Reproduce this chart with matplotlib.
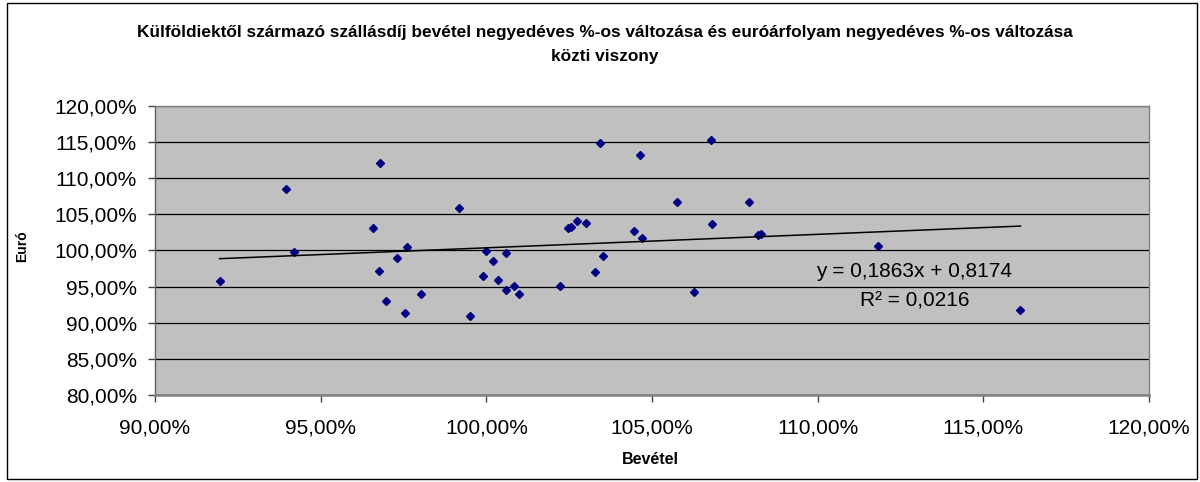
# scatter of quarterly % change: accommodation revenue vs euro rate
import numpy as np
import matplotlib.pyplot as plt
from matplotlib.ticker import FuncFormatter, MultipleLocator
from matplotlib.patches import Rectangle

plt.rcParams['font.family'] = ['Liberation Sans', 'DejaVu Sans']

# Bevétel (x) and Euró (y)
bevetel = [0.9195, 0.9395, 0.9421, 0.9678, 0.9658, 0.9761, 0.9730, 0.9675,
           0.9696, 0.9754, 0.9803, 0.9918, 0.9951, 0.9998, 0.9990, 1.0021,
           1.0034, 1.0058, 1.0058, 1.0083, 1.0099, 1.0221, 1.0247, 1.0256,
           1.0273, 1.0300, 1.0328, 1.0344, 1.0353, 1.0445, 1.0469, 1.0463,
           1.0575, 1.0627, 1.0677, 1.0680, 1.0793, 1.0821, 1.0828, 1.1183,
           1.1612]
euro = [0.9580, 1.0850, 0.9980, 1.1210, 1.0310, 1.0043, 0.9895, 0.9715,
        0.9300, 0.9143, 0.9406, 1.0587, 0.9091, 0.9988, 0.9645, 0.9853,
        0.9586, 0.9964, 0.9452, 0.9512, 0.9406, 0.9512, 1.0310, 1.0324,
        1.0413, 1.0385, 0.9701, 1.1483, 0.9928, 1.0265, 1.0172, 1.1313,
        1.0670, 0.9429, 1.1529, 1.0371, 1.0670, 1.0213, 1.0227, 1.0061,
        0.9175]

slope = 0.1863
intercept = 0.8174
r2 = 0.0216

title = ('Külföldiektől származó szállásdíj bevétel negyedéves %-os változása '
         'és euróárfolyam negyedéves %-os változása\nközti viszony')

W, H = 1200, 482
fig = plt.figure(figsize=(W / 100, H / 100), dpi=100)
ax = fig.add_axes([155 / W, 1 - 395.3 / H, 994 / W, 289.6 / H])
ax.set_facecolor('#C0C0C0')

# outer chart border
fig.patches.append(Rectangle((7 / W, 3 / H), 1190 / W, 476 / H, transform=fig.transFigure,
                             fill=False, edgecolor='black', linewidth=1.0))

ax.set_xlim(0.90, 1.20)
ax.set_ylim(0.80, 1.20)
ax.xaxis.set_major_locator(MultipleLocator(0.05))
ax.yaxis.set_major_locator(MultipleLocator(0.05))
pct = FuncFormatter(lambda v, pos: ('%.2f%%' % (v * 100)).replace('.', ','))
ax.xaxis.set_major_formatter(pct)
ax.yaxis.set_major_formatter(pct)

ax.grid(axis='y', color='black', linewidth=0.9)
ax.set_axisbelow(True)

ax.plot(bevetel, euro, linestyle='none', marker='D', markersize=4.3,
        color='#000080', zorder=3)

# linear trendline from smallest to largest x
xs = np.array([min(bevetel), max(bevetel)])
ax.plot(xs, slope * xs + intercept, color='black', linewidth=1.1, zorder=4)

# trendline label
ax.text(1.129, 0.9715, ('y = %.4fx + %.4f' % (slope, intercept)).replace('.', ','),
        ha='center', va='center', fontsize=15, zorder=5)
ax.text(1.1293, 0.9309, ('R² = %.4f' % r2).replace('.', ','),
        ha='center', va='center', fontsize=15, zorder=5)

for s in ax.spines.values():
    s.set_color('#808080')
    s.set_linewidth(1.0)
ax.spines['bottom'].set_linewidth(1.8)
ax.spines['left'].set_color('#606060')

ax.tick_params(axis='both', direction='out', length=5, width=1, color='#404040',
               labelsize=15)
ax.tick_params(axis='x', pad=12)
ax.tick_params(axis='y', pad=8)

fig.text(650 / W, 1 - 459 / H, 'Bevétel', ha='center', va='center', fontsize=11.5,
         fontweight='bold')
fig.text(22 / W, 1 - 246 / H, 'Euró', ha='center', va='center', fontsize=10,
         fontweight='bold', rotation=90)
fig.text(605 / W, 1 - 44.5 / H, title, ha='center', va='center', fontsize=12.4,
         fontweight='bold', linespacing=1.75)

fig.savefig('out.png', dpi=100)
